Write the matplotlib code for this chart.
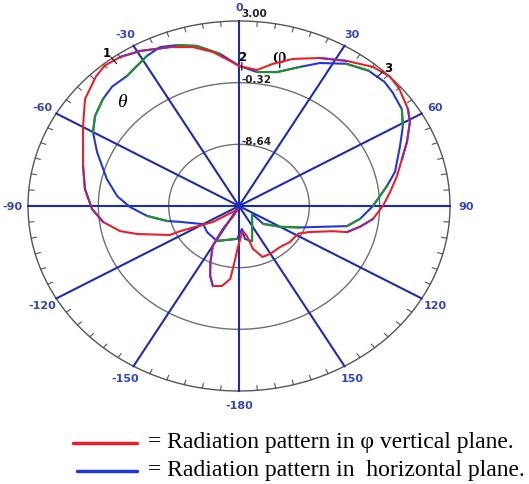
import numpy as np
import matplotlib
matplotlib.use("Agg")
import matplotlib.pyplot as plt
from matplotlib.lines import Line2D

# angle in degrees (0 at top, clockwise), radius as fraction of the outer ring
phi_ang = [0, 6.6, 11.8, 17.8, 25.6, 33.1, 40.2, 45.5, 50, 56.8, 60.7, 66.5, 71.8, 77.8, 84,
           90, 96.3, 101, 105.4, 107, 113, 118, 129, 139, 150, 158, 164, 167, 172, 175, 181,
           184, 186, 190.6, 196, 200, 204, 210, 211.5, 207, 200, 235, 244, 244.4, 252.6, 256.5,
           262.4, 268.7, 277.2, 286.3, 300.3, 308.4, 316, 320, 325, 330.8, 339.2, 345.8, 351.6,
           356.9, 360]
phi_r = [0.757, 0.74, 0.785, 0.835, 0.887, 0.936, 0.984, 1.0, 0.99, 0.957, 0.929, 0.868, 0.813,
         0.766, 0.72, 0.682, 0.639, 0.585, 0.531, 0.466, 0.36, 0.318, 0.31, 0.295, 0.298, 0.297,
         0.241, 0.166, 0.136, 0.152, 0.216, 0.303, 0.397, 0.44, 0.45, 0.40, 0.333, 0.249, 0.146,
         0.061, 0.02, 0.15, 0.31, 0.363, 0.506, 0.58, 0.65, 0.697, 0.736, 0.77, 0.856, 0.931,
         0.975, 0.99, 0.983, 0.96, 0.919, 0.886, 0.841, 0.785, 0.757]

theta_ang = [0, 6.7, 14, 21, 26.4, 33.5, 40, 45.8, 50, 55.9, 60.9, 67, 76, 81.2, 90, 97, 102,
             107, 112, 120, 130, 125, 144, 162, 171, 173.5, 183, 209, 227, 240, 253, 256.6, 263,
             269.4, 275.3, 283.1, 293.5, 300, 305.5, 311.9, 317, 323, 331.7, 336.5, 341.3, 347,
             353.8, 360]
theta_r = [0.758, 0.729, 0.746, 0.805, 0.863, 0.922, 0.955, 0.962, 0.952, 0.932, 0.889, 0.829,
           0.762, 0.71, 0.635, 0.577, 0.523, 0.387, 0.31, 0.225, 0.15, 0.075, 0.106, 0.2, 0.18,
           0.125, 0.178, 0.216, 0.207, 0.196, 0.293, 0.35, 0.439, 0.517, 0.58, 0.643, 0.734,
           0.799, 0.838, 0.866, 0.882, 0.881, 0.921, 0.937, 0.918, 0.888, 0.827, 0.758]

spoke_angles = [0, 30, 60, 90, 120, 150, 180, 210, 240, 270, 300, 330]
spoke_labels = ['0', '30', '60', '90', '120', '150', '-180', '-150', '-120', '-90', '-60', '-30']
ring_r = [1/3, 2/3, 1.0]
ring_labels = ['-8.64', '-0.32', '3.00']

# index ranges where the scanned trace changes colour
phi_purple = [(4, 5), (9, 12), (16, 18), (34, 40), (46, 49), (54, 56)]
theta_green = [(1, 3), (5, 6), (9, 10), (13, 14), (15, 16), (18, 20), (21, 23), (26, 27),
               (31, 32), (37, 39), (41, 42), (44, 46)]

RED = '#e8202a'
PURPLE = '#8a2c9c'
BLUE = '#2038d8'
GREEN = '#22922a'
SPOKE = '#1a2cb0'
LBL = '#3346bb'


def to_xy(ang, r):
    a = np.radians(np.asarray(ang, dtype=float))
    r = np.asarray(r, dtype=float)
    return r * np.sin(a), r * np.cos(a)


W, H = 529, 485
fig = plt.figure(figsize=(W / 100, H / 100), dpi=100)
cx, cy, rx, ry = 239, 207, 211, 185
lx, ly = 1.13, 1.12
ax = fig.add_axes([(cx - lx * rx) / W, (H - cy - ly * ry) / H, 2 * lx * rx / W, 2 * ly * ry / H])
ax.set_xlim(-lx, lx)
ax.set_ylim(-ly, ly)
ax.axis('off')

# rings
t = np.linspace(0, 360, 361)
for i, rr in enumerate(ring_r):
    x, y = to_xy(t, rr)
    ax.plot(x, y, color='#555555' if i == 2 else '#707070', lw=1.0, zorder=1)

# small ticks on the outer ring
for a in range(0, 360, 5):
    if a % 30 == 0:
        continue
    x, y = to_xy([a, a], [1.0, 0.975])
    ax.plot(x, y, color='#555555', lw=0.8, zorder=1)

# spokes and angle labels
for a, lab in zip(spoke_angles, spoke_labels):
    x, y = to_xy([0, a], [0, 1.0])
    ax.plot(x, y, color=SPOKE, lw=1.5, zorder=2)
    tx, ty = to_xy(a, 1.075)
    ax.text(tx, ty, lab, color=LBL, fontsize=8, fontweight='bold',
            ha='center', va='center', clip_on=False)

# ring labels
for rr, lab in zip(ring_r, ring_labels):
    ax.text(0.012, rr + 0.02 if rr < 1 else rr + 0.045, lab, fontsize=7.5, fontweight='bold',
            color='#222222', ha='left', va='center', clip_on=False)

# traces
px, py = to_xy(phi_ang, phi_r)
tx_, ty_ = to_xy(theta_ang, theta_r)
ax.plot(tx_, ty_, color=BLUE, lw=1.5, zorder=3, solid_joinstyle='round')
for a, b in theta_green:
    ax.plot(tx_[a:b + 1], ty_[a:b + 1], color=GREEN, lw=1.5, zorder=3, solid_joinstyle='round')
ax.plot(px, py, color=RED, lw=1.5, zorder=4, solid_joinstyle='round')
for a, b in phi_purple:
    ax.plot(px[a:b + 1], py[a:b + 1], color=PURPLE, lw=1.5, zorder=4, solid_joinstyle='round')

# annotations
ax.text(0.19, 0.81, 'φ', fontsize=17, family='Liberation Serif', ha='center', va='center')
ax.text(-0.555, 0.565, 'θ', fontsize=14, family='Liberation Serif', style='italic',
        ha='center', va='center')
for a, r, s in [(-37, 1.04, '1'), (1.0, 0.81, '2'), (43.2, 1.03, '3')]:
    x, y = to_xy(a, r)
    ax.text(x, y, s, fontsize=8.5, fontweight='bold', ha='center', va='center')
    x2, y2 = to_xy([a, a], [r - 0.035, r - 0.075])
    ax.plot(x2, y2, color='#222222', lw=0.9, zorder=5)

# legend
fig.add_artist(Line2D([73 / W, 137 / W], [1 - 444 / H, 1 - 444 / H], color=RED, lw=2.5,
                      solid_capstyle='round'))
fig.add_artist(Line2D([77 / W, 137 / W], [1 - 472 / H, 1 - 472 / H], color=BLUE, lw=2.5,
                      solid_capstyle='round'))
fig.text(148 / W, 1 - 443 / H, '= Radiation pattern in φ vertical plane.',
         family='Liberation Serif', fontsize=17, va='center', ha='left')
fig.text(148 / W, 1 - 471 / H, '= Radiation pattern in  horizontal plane.',
         family='Liberation Serif', fontsize=17, va='center', ha='left')

fig.savefig('out.png', dpi=100)
